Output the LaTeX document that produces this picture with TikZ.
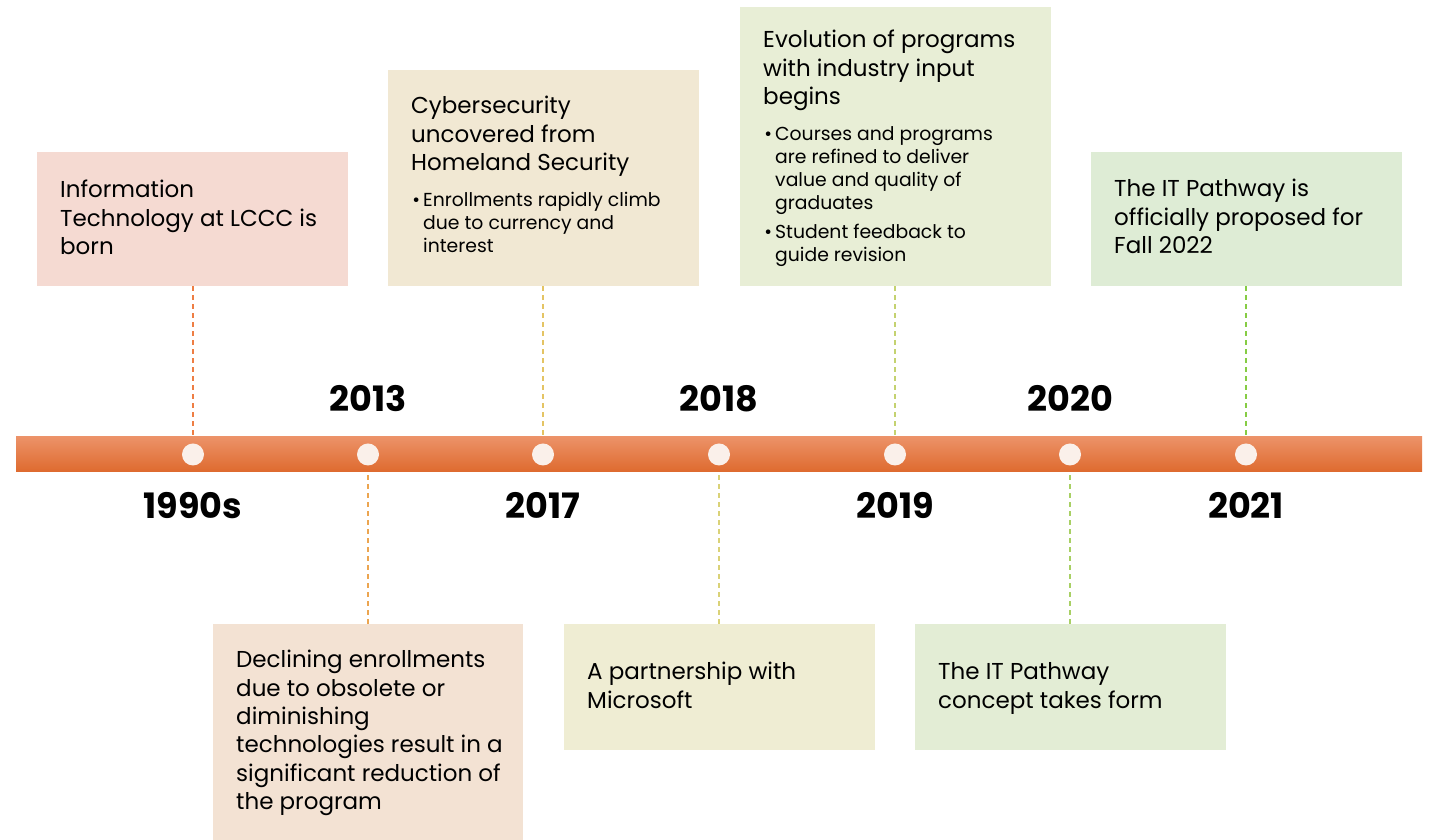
\documentclass[tikz,border=0pt]{standalone}
\usepackage{fontspec}
\setmainfont{Poppins}
\usepackage[RGB]{xcolor}
\usepackage{tikz}
\definecolor{barTop}{RGB}{236,146,104}
\definecolor{barBot}{RGB}{222,106,46}
\definecolor{dotFill}{RGB}{250,240,234}
\definecolor{A}{RGB}{245,218,210}
\definecolor{B}{RGB}{243,226,211}
\definecolor{C}{RGB}{241,232,211}
\definecolor{D}{RGB}{239,237,211}
\definecolor{E}{RGB}{232,238,214}
\definecolor{F}{RGB}{227,237,213}
\definecolor{G}{RGB}{222,236,213}
\definecolor{lA}{RGB}{238,126,68}
\definecolor{lB}{RGB}{236,165,80}
\definecolor{lC}{RGB}{228,196,100}
\definecolor{lD}{RGB}{218,210,120}
\definecolor{lE}{RGB}{196,210,112}
\definecolor{lF}{RGB}{168,208,100}
\definecolor{lG}{RGB}{134,204,68}
\newcommand{\evbox}[5]{\node[fill=#5, minimum width=#3, minimum height=#4, anchor=north west, inner sep=0] (#1) at (#2) {};}
\newcommand{\evtext}[3]{\node[anchor=base west, inner sep=0] (#1) at (#2) {\parbox[t]{300pt}{\raggedright\fontsize{23}{28.3}\selectfont #3}};}
\newcommand{\bul}[2]{\par\vspace{#1}{\fontsize{18.8}{23}\selectfont\leftskip=12pt\noindent\llap{\textbullet\hspace{3pt}}#2\par}}
\newcommand{\yearlabel}[3]{\node[anchor=base, font=\fontsize{35}{40}\selectfont\bfseries] (#1) at (#2) {#3};}
\newcommand{\drawdash}[1]{\draw[#1, line width=1.4pt, dash pattern=on 5pt off 4pt]}

\begin{document}
\begin{tikzpicture}[x=1pt,y=1pt]
\useasboundingbox (0,0) rectangle (1434,840);
% dots on the bar
\foreach \i/\x in {1/193,2/368,3/543,4/719,5/895,6/1070,7/1246}{
  \node[circle, fill=dotFill, minimum size=22, inner sep=0] (d\i) at (\x,385.5) {};
}
% boxes
\evbox{b1}{37,688}{311}{134}{A}
\evbox{b2}{213,216}{310}{216}{B}
\evbox{b3}{388,770}{311}{216}{C}
\evbox{b4}{564,216}{311}{126}{D}
\evbox{b5}{740,833}{311}{279}{E}
\evbox{b6}{915,216}{311}{126}{F}
\evbox{b7}{1091,688}{311}{134}{G}
% connectors
\drawdash{lA} (b1.south -| d1) -- (d1.center);
\drawdash{lB} (b2.north -| d2) -- (d2.center);
\drawdash{lC} (b3.south -| d3) -- (d3.center);
\drawdash{lD} (b4.north -| d4) -- (d4.center);
\drawdash{lE} (b5.south -| d5) -- (d5.center);
\drawdash{lF} (b6.north -| d6) -- (d6.center);
\drawdash{lG} (b7.south -| d7) -- (d7.center);
% bar
\shade[top color=barTop, bottom color=barBot] (16,368) rectangle (1422,403);
\foreach \i in {1,...,7}{
  \fill[dotFill] (d\i) circle (11);
}
% texts
\evtext{t1}{60,642}{Information\\Technology at LCCC is\\born}
\evtext{t2}{236,172}{Declining enrollments\\due to obsolete or\\diminishing\\technologies result in a\\significant reduction of\\the program}
\evtext{t3}{411,726}{Cybersecurity\\uncovered from\\Homeland Security
  \bul{13pt}{Enrollments rapidly climb\\due to currency and\\interest}}
\evtext{t4}{587,160}{A partnership with\\Microsoft}
\evtext{t5}{763,792}{Evolution of programs\\with industry input\\begins
  \bul{13pt}{Courses and programs\\are refined to deliver\\value and quality of\\graduates}
  \bul{6pt}{Student feedback to\\guide revision}}
\evtext{t6}{938,160}{The IT Pathway\\concept takes form}
\evtext{t7}{1114,643}{The IT Pathway is\\officially proposed for\\Fall 2022}
% years
\yearlabel{y1}{193,321}{1990s}
\yearlabel{y2}{368,428}{2013}
\yearlabel{y3}{543,321}{2017}
\yearlabel{y4}{719,428}{2018}
\yearlabel{y5}{895,321}{2019}
\yearlabel{y6}{1070,428}{2020}
\yearlabel{y7}{1246,321}{2021}
\end{tikzpicture}
\end{document}
